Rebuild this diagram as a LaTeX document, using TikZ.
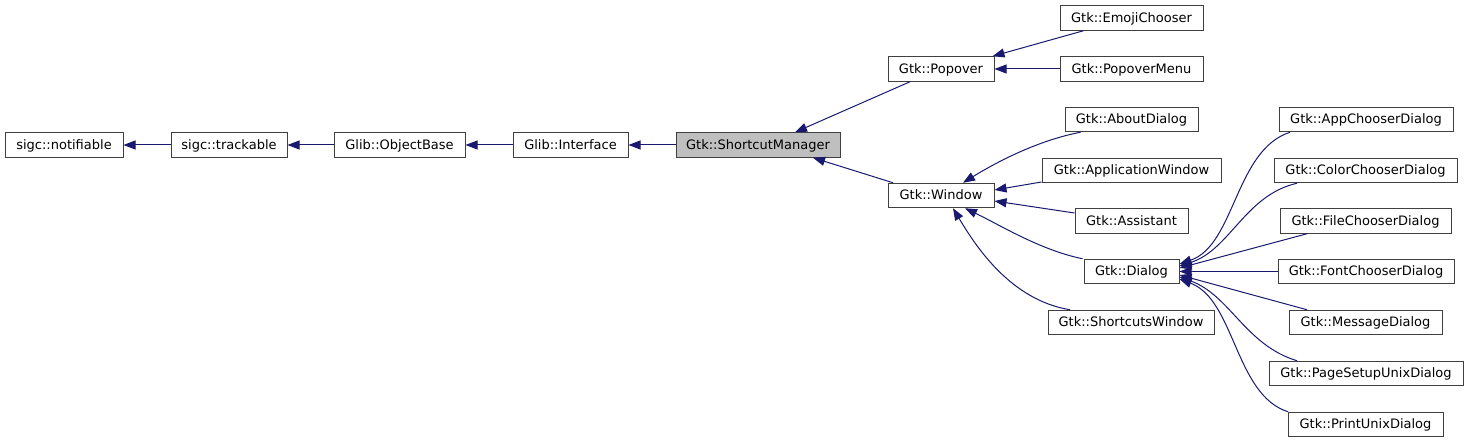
\documentclass[tikz,border=0pt]{standalone}
\usepackage{fontspec}
\setmainfont{DejaVu Sans}
\usetikzlibrary{arrows.meta,calc}
\definecolor{edgeblue}{HTML}{191970}
\definecolor{boxline}{HTML}{404040}
\definecolor{curfill}{HTML}{BFBFBF}
\tikzset{
  box/.style={draw=boxline, line width=1pt, inner sep=0pt, minimum height=24.5pt,
    text height=10pt, text depth=1.4pt, font=\fontsize{13}{15}\selectfont},
  inh/.style={draw=edgeblue, line width=1pt, {Triangle[length=12pt,width=9pt,fill=edgeblue]}-}
}
\begin{document}
\begin{tikzpicture}[x=1pt,y=-1pt]
\useasboundingbox (0,0) rectangle (1468,443);
\node[box, minimum width=118pt] (notif) at (64,145) {sigc::notifiable};
\node[box, minimum width=116pt] (track) at (229,145) {sigc::trackable};
\node[box, minimum width=131pt] (objb) at (399.5,145) {Glib::ObjectBase};
\node[box, minimum width=115pt] (iface) at (570.5,145) {Glib::Interface};
\node[box, minimum width=164pt, fill=curfill] (scm) at (758,145) {Gtk::ShortcutManager};
\node[box, minimum width=106pt] (popover) at (941,69) {Gtk::Popover};
\node[box, minimum width=143pt] (emoji) at (1131.5,18) {Gtk::EmojiChooser};
\node[box, minimum width=143pt] (popmenu) at (1131.5,69) {Gtk::PopoverMenu};
\node[box, minimum width=133pt] (about) at (1131.5,119.5) {Gtk::AboutDialog};
\node[box, minimum width=179pt] (appwin) at (1131.5,170.5) {Gtk::ApplicationWindow};
\node[box, minimum width=106pt] (window) at (941,195.5) {Gtk::Window};
\node[box, minimum width=113pt] (assist) at (1131.5,221) {Gtk::Assistant};
\node[box, minimum width=95pt] (dialog) at (1131.5,271.5) {Gtk::Dialog};
\node[box, minimum width=166pt] (scwin) at (1131,322.5) {Gtk::ShortcutsWindow};
\node[box, minimum width=174pt] (appch) at (1366,119.5) {Gtk::AppChooserDialog};
\node[box, minimum width=183pt] (colch) at (1365.5,170.5) {Gtk::ColorChooserDialog};
\node[box, minimum width=171pt] (filech) at (1365.5,221) {Gtk::FileChooserDialog};
\node[box, minimum width=176pt] (fontch) at (1366,271.5) {Gtk::FontChooserDialog};
\node[box, minimum width=153pt] (msg) at (1365.5,322.5) {Gtk::MessageDialog};
\node[box, minimum width=194pt] (pagesetup) at (1366,373.5) {Gtk::PageSetupUnixDialog};
\node[box, minimum width=155pt] (print) at (1365.5,424.5) {Gtk::PrintUnixDialog};

\draw[inh] (notif.east) -- (track.west);
\draw[inh] (track.east) -- (objb.west);
\draw[inh] (objb.east) -- (iface.west);
\draw[inh] (iface.east) -- (scm.west);
\draw[inh] ($(scm.north)+(37,0)$) -- ($(popover.south)+(-31,0)$);
\draw[inh] ($(scm.south)+(55,0)$) -- ($(window.north)+(-48,0)$);
\draw[inh] ($(popover.north east)+(-2,0)$) -- ($(emoji.south)+(-48,0)$);
\draw[inh] (popover.east) -- (popmenu.west);
\draw[inh] ($(window.north)+(22,0)$) .. controls (1000,160) and (1040,140) .. ($(about.south)+(-51,0)$);
\draw[inh] ($(window.east)+(0,-5.5)$) -- ($(appwin.west)+(0,11.5)$);
\draw[inh] ($(window.east)+(0,5.5)$) -- ($(assist.west)+(0,-8)$);
\draw[inh] ($(window.south)+(24,0)$) .. controls (1000,225) and (1040,250) .. ($(dialog.north west)+(-1,0)$);
\draw[inh] ($(window.south)+(12,0)$) .. controls (975,245) and (1010,300) .. ($(scwin.north)+(-61,0)$);
\draw[inh] ($(dialog.east)+(0,-7.5)$) .. controls (1235,245) and (1235,150) .. ($(appch.south)+(-76,0)$);
\draw[inh] ($(dialog.east)+(0,-5.5)$) .. controls (1230,250) and (1245,195) .. ($(colch.south)+(-68.5,0)$);
\draw[inh] ($(dialog.east)+(0,-3.5)$) -- ($(filech.south)+(-58.5,0)$);
\draw[inh] (dialog.east) -- (fontch.west);
\draw[inh] ($(dialog.east)+(0,3.5)$) -- ($(msg.north)+(-58.5,0)$);
\draw[inh] ($(dialog.east)+(0,5.5)$) .. controls (1230,295) and (1245,345) .. ($(pagesetup.north)+(-69,0)$);
\draw[inh] ($(dialog.east)+(0,7.5)$) .. controls (1235,300) and (1235,395) .. ($(print.north)+(-77.5,0)$);
\end{tikzpicture}
\end{document}
